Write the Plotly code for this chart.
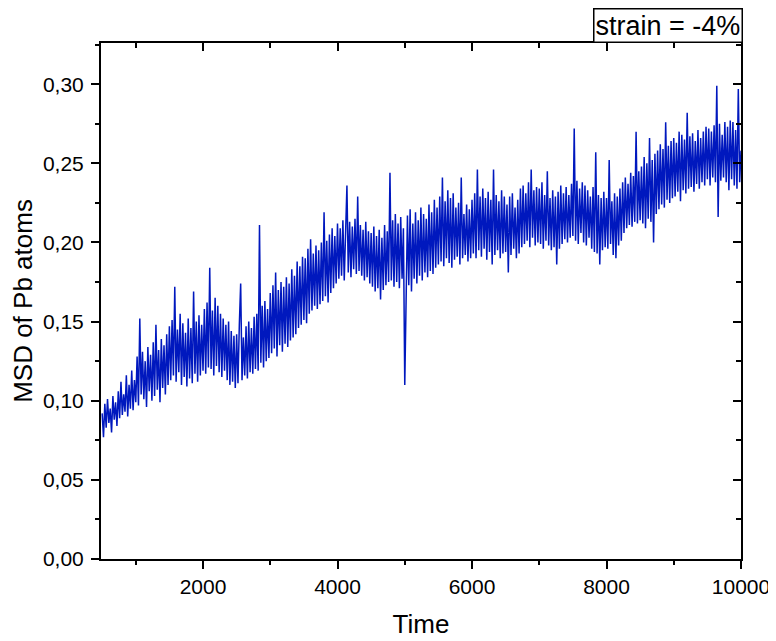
import plotly.graph_objects as go

# MSD values, one every 20 time units from 500 to 10000
time_start = 500
time_step = 20
msd = [
    # 500 - 980
    0.092, 0.077, 0.098, 0.083, 0.101, 0.086, 0.095, 0.080, 0.103, 0.088,
    0.099, 0.084, 0.106, 0.089, 0.112, 0.091, 0.104, 0.093, 0.116, 0.090,
    0.110, 0.095, 0.119, 0.094, 0.113,
    # 1000 - 1480
    0.099, 0.128, 0.097, 0.152, 0.104, 0.131, 0.101, 0.125, 0.096, 0.134,
    0.106, 0.129, 0.100, 0.137, 0.103, 0.148, 0.107, 0.132, 0.099, 0.139,
    0.108, 0.135, 0.104, 0.142, 0.110,
    # 1500 - 1980
    0.147, 0.113, 0.151, 0.116, 0.172, 0.112, 0.145, 0.118, 0.155, 0.110,
    0.149, 0.115, 0.143, 0.109, 0.152, 0.114, 0.146, 0.111, 0.169, 0.117,
    0.150, 0.112, 0.154, 0.116, 0.148,
    # 2000 - 2480
    0.119, 0.158, 0.117, 0.162, 0.121, 0.184, 0.120, 0.157, 0.116, 0.165,
    0.122, 0.160, 0.118, 0.155, 0.115, 0.152, 0.119, 0.148, 0.113, 0.150,
    0.110, 0.144, 0.112, 0.141, 0.108,
    # 2500 - 2980
    0.142, 0.111, 0.148, 0.174, 0.113, 0.140, 0.116, 0.147, 0.114, 0.150,
    0.118, 0.146, 0.117, 0.153, 0.120, 0.155, 0.119, 0.211, 0.124, 0.160,
    0.121, 0.163, 0.125, 0.158, 0.127,
    # 3000 - 3480
    0.168, 0.130, 0.173, 0.133, 0.181, 0.128, 0.170, 0.135, 0.175, 0.131,
    0.172, 0.136, 0.178, 0.134, 0.174, 0.138, 0.183, 0.140, 0.179, 0.142,
    0.188, 0.146, 0.185, 0.148, 0.191,
    # 3500 - 3980
    0.151, 0.190, 0.149, 0.196, 0.155, 0.202, 0.157, 0.193, 0.160, 0.198,
    0.158, 0.195, 0.161, 0.200, 0.163, 0.219, 0.166, 0.201, 0.162, 0.205,
    0.168, 0.209, 0.171, 0.204, 0.174,
    # 4000 - 4480
    0.212, 0.177, 0.209, 0.179, 0.214, 0.176, 0.211, 0.236, 0.181, 0.213,
    0.178, 0.210, 0.183, 0.215, 0.180, 0.229, 0.182, 0.211, 0.179, 0.208,
    0.176, 0.213, 0.178, 0.207, 0.174,
    # 4500 - 4980
    0.206, 0.172, 0.210, 0.169, 0.204, 0.171, 0.208, 0.164, 0.203, 0.170,
    0.211, 0.173, 0.207, 0.175, 0.244, 0.176, 0.214, 0.172, 0.218, 0.175,
    0.212, 0.171, 0.216, 0.177, 0.209,
    # 5000 - 5480
    0.110, 0.176, 0.217, 0.173, 0.221, 0.169, 0.212, 0.177, 0.219, 0.174,
    0.214, 0.179, 0.222, 0.176, 0.218, 0.181, 0.215, 0.178, 0.224, 0.182,
    0.219, 0.180, 0.227, 0.184, 0.222,
    # 5500 - 5980
    0.186, 0.229, 0.188, 0.241, 0.185, 0.226, 0.190, 0.233, 0.187, 0.228,
    0.184, 0.231, 0.189, 0.222, 0.191, 0.225, 0.186, 0.241, 0.190, 0.218,
    0.192, 0.224, 0.188, 0.221, 0.190,
    # 6000 - 6480
    0.227, 0.193, 0.231, 0.190, 0.246, 0.195, 0.229, 0.191, 0.234, 0.196,
    0.228, 0.189, 0.232, 0.194, 0.227, 0.186, 0.246, 0.192, 0.230, 0.195,
    0.226, 0.190, 0.233, 0.193, 0.229,
    # 6500 - 6980
    0.194, 0.224, 0.181, 0.229, 0.192, 0.231, 0.196, 0.222, 0.190, 0.227,
    0.193, 0.234, 0.197, 0.236, 0.199, 0.231, 0.201, 0.238, 0.197, 0.246,
    0.203, 0.233, 0.198, 0.235, 0.200,
    # 7000 - 7480
    0.234, 0.199, 0.238, 0.196, 0.230, 0.201, 0.245, 0.198, 0.228, 0.195,
    0.233, 0.197, 0.229, 0.186, 0.232, 0.196, 0.236, 0.199, 0.231, 0.202,
    0.235, 0.200, 0.230, 0.203, 0.237,
    # 7500 - 7980
    0.204, 0.272, 0.201, 0.239, 0.199, 0.234, 0.206, 0.238, 0.200, 0.236,
    0.198, 0.233, 0.203, 0.229, 0.196, 0.235, 0.194, 0.257, 0.193, 0.230,
    0.186, 0.228, 0.195, 0.232, 0.197,
    # 8000 - 8480
    0.228, 0.196, 0.252, 0.199, 0.226, 0.192, 0.231, 0.190, 0.229, 0.198,
    0.234, 0.201, 0.238, 0.206, 0.241, 0.209, 0.237, 0.211, 0.244, 0.210,
    0.242, 0.213, 0.270, 0.212, 0.245,
    # 8500 - 8980
    0.214, 0.248, 0.212, 0.254, 0.209, 0.250, 0.215, 0.266, 0.213, 0.252,
    0.200, 0.256, 0.218, 0.258, 0.221, 0.262, 0.224, 0.259, 0.222, 0.276,
    0.227, 0.261, 0.225, 0.264, 0.228,
    # 9000 - 9480
    0.266, 0.229, 0.263, 0.232, 0.270, 0.226, 0.268, 0.233, 0.265, 0.231,
    0.282, 0.234, 0.267, 0.235, 0.269, 0.232, 0.264, 0.237, 0.271, 0.234,
    0.266, 0.238, 0.270, 0.236, 0.273,
    # 9500 - 9980
    0.240, 0.272, 0.236, 0.270, 0.241, 0.274, 0.238, 0.299, 0.216, 0.275,
    0.239, 0.268, 0.241, 0.276, 0.238, 0.273, 0.233, 0.277, 0.240, 0.276,
    0.236, 0.271, 0.234, 0.297, 0.238,
    # 10000
    0.258,
]
time = [time_start + i * time_step for i in range(len(msd))]

x_tickvals = [2000, 4000, 6000, 8000, 10000]
x_ticktext = ["2000", "4000", "6000", "8000", "10000"]
x_minor = [1000, 3000, 5000, 7000, 9000]
y_tickvals = [0.00, 0.05, 0.10, 0.15, 0.20, 0.25, 0.30]
y_ticktext = ["0,00", "0,05", "0,10", "0,15", "0,20", "0,25", "0,30"]
y_minor = [0.025, 0.075, 0.125, 0.175, 0.225, 0.275, 0.325]
x_range = [483, 10000]
y_range = [0, 0.326]

FONT = "Liberation Sans, Arial, sans-serif"
LINE_COLOR = "rgb(0,24,190)"

fig = go.Figure()
fig.add_trace(go.Scatter(x=time, y=msd, mode="lines",
                         line=dict(color=LINE_COLOR, width=1.5),
                         showlegend=False, hoverinfo="skip"))

axis_common = dict(showgrid=False, zeroline=False, showline=True,
                   linecolor="black", linewidth=2, tickcolor="black",
                   tickwidth=2, automargin=False)

fig.update_layout(
    width=768, height=633,
    margin=dict(l=93, r=35, t=35, b=82, autoexpand=False),
    paper_bgcolor="white", plot_bgcolor="white",
    font=dict(family=FONT, color="black"),
    xaxis=dict(range=x_range, tickvals=x_tickvals, ticktext=x_ticktext,
               ticks="outside", ticklen=8,
               minor=dict(tickvals=x_minor, ticks="outside", ticklen=4,
                          tickwidth=2, tickcolor="black"),
               tickfont=dict(size=21, family=FONT),
               title=dict(text="Time", font=dict(size=26, family=FONT), standoff=18),
               **axis_common),
    yaxis=dict(range=y_range, tickvals=y_tickvals, ticktext=y_ticktext,
               ticks="outside", ticklen=8, ticklabelstandoff=3,
               minor=dict(tickvals=y_minor, ticks="outside", ticklen=4,
                          tickwidth=2, tickcolor="black"),
               tickfont=dict(size=21, family=FONT),
               title=dict(text="MSD of Pb atoms", font=dict(size=26, family=FONT), standoff=6),
               **axis_common),
    xaxis2=dict(range=x_range, overlaying="x", side="top", tickvals=x_tickvals,
                ticks="inside", ticklen=8, showticklabels=False,
                minor=dict(tickvals=x_minor, ticks="inside", ticklen=5,
                           tickwidth=2, tickcolor="black"),
                **axis_common),
    yaxis2=dict(range=y_range, overlaying="y", side="right", tickvals=y_tickvals,
                ticks="inside", ticklen=8, showticklabels=False,
                minor=dict(tickvals=y_minor, ticks="inside", ticklen=5,
                           tickwidth=2, tickcolor="black"),
                **axis_common),
)

fig.add_trace(go.Scatter(x=[None], y=[None], xaxis="x2", yaxis="y2",
                         showlegend=False, hoverinfo="skip"))

fig.add_annotation(text="strain = -4%", xref="paper", yref="paper",
                   x=1.003, y=1.0, xanchor="right", yanchor="bottom",
                   showarrow=False, font=dict(size=27, family=FONT, color="black"),
                   bordercolor="black", borderwidth=1.5, borderpad=1,
                   bgcolor="white")

fig.write_html("out.html")
